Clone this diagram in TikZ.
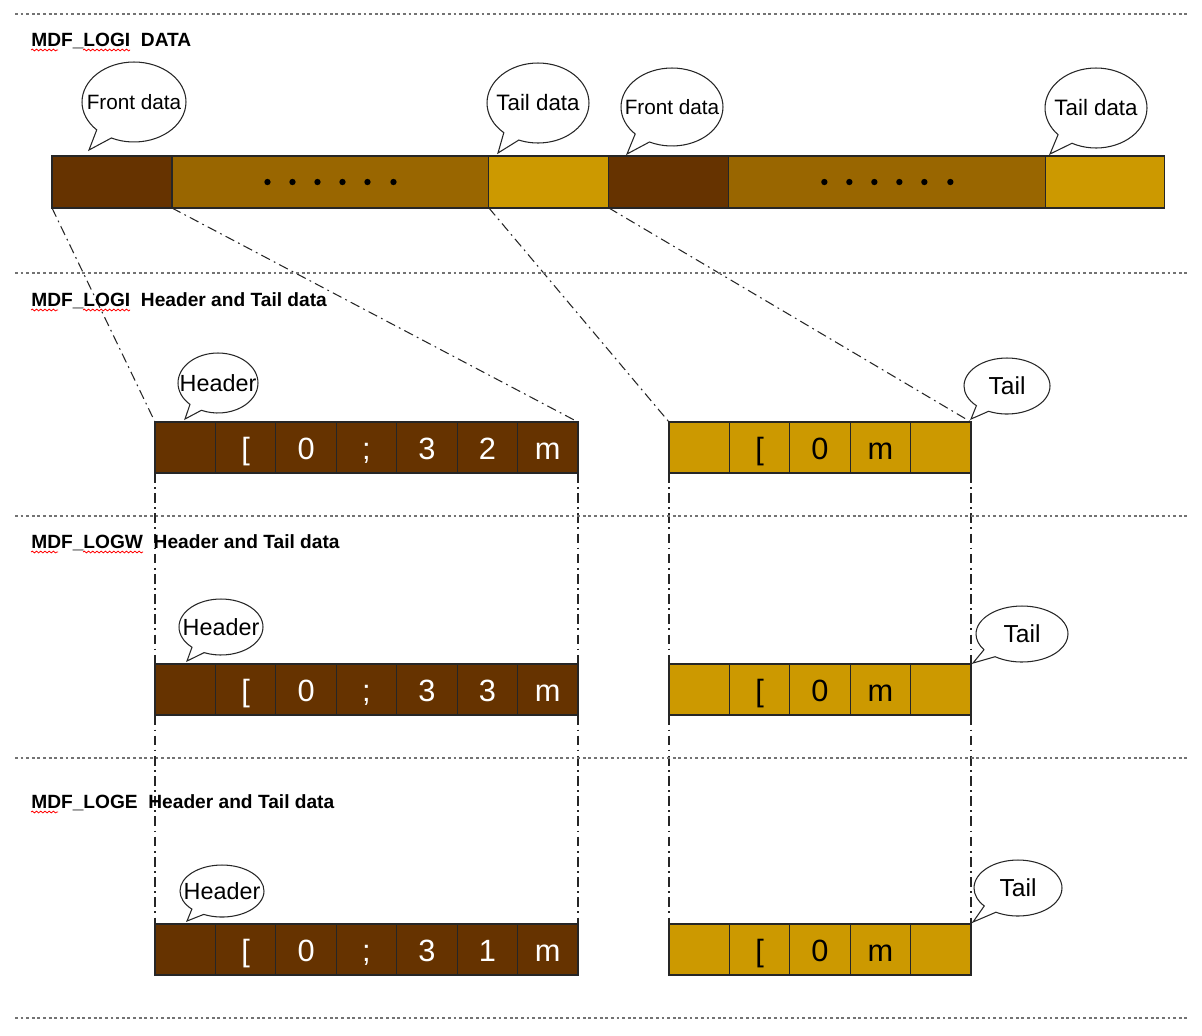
\documentclass[tikz,border=0pt]{standalone}
\usepackage{fontspec}
\setmainfont{Liberation Sans}
\usetikzlibrary{positioning,shapes.callouts,backgrounds,decorations.pathmorphing}
\definecolor{brdark}{HTML}{663300}
\definecolor{brmid}{HTML}{996600}
\definecolor{brlight}{HTML}{CC9900}

\begin{document}
\begin{tikzpicture}[x=0.02cm,y=-0.02cm]
    \tikzstyle{sep}=[black!55, line width=0.8pt, dash pattern=on 1.6pt off 1.6pt]
    \tikzstyle{title}=[anchor=base west, inner sep=0pt, font=\bfseries\fontsize{10.9}{12}\selectfont]
    \tikzstyle{squiggle}=[red, line width=0.45pt, decorate, decoration={snake, amplitude=0.5pt, segment length=2.4pt}]
    \tikzstyle{bar}=[draw=black!85, line width=0.6pt, minimum height=1.04cm, inner sep=0pt, outer sep=0pt]
    \tikzstyle{cell}=[draw=black!85, line width=0.6pt, minimum width=1.208cm, minimum height=1.02cm,
                      inner sep=0pt, outer sep=0pt, anchor=north west, text height=14pt, text depth=0pt,
                      font=\fontsize{17.5}{18}\selectfont]
    \tikzstyle{hcell}=[cell, fill=brdark, text=white]
    \tikzstyle{tcell}=[cell, fill=brlight, text=black]
    \tikzstyle{bubble}=[ellipse callout, draw=black!85, fill=white, line width=0.6pt, inner sep=0pt, callout pointer arc=20]
    \tikzstyle{guide}=[black!85, line width=0.6pt, dash pattern=on 5.5pt off 2.5pt on 1pt off 2.5pt]

    \useasboundingbox (0,0) rectangle (1202,1035);

    % section separators
    \foreach \y in {14,273,516,758,1018}
        \draw[sep] (15,\y) -- (1190,\y);

    % section titles
    \node[title] (ti) at (31,46) {MDF\_LOGI\ \ DATA};
    \node[title] (th) at (31,306) {MDF\_LOGI\ \ Header and Tail data};
    \node[title] (tw) at (31,548) {MDF\_LOGW\ \ Header and Tail data};
    \node[title] (te) at (31,808) {MDF\_LOGE\ \ Header and Tail data};
    \draw[squiggle] (31,50) -- (58,50);  \draw[squiggle] (83,50) -- (130,50);
    \draw[squiggle] (31,310) -- (58,310); \draw[squiggle] (83,310) -- (130,310);
    \draw[squiggle] (31,552) -- (58,552); \draw[squiggle] (83,552) -- (143,552);
    \draw[squiggle] (31,812) -- (58,812);

    % log data stream
    \node[bar, fill=brdark, minimum width=2.4cm] (fa) at (112,182) {};
    \node[bar, fill=brmid, minimum width=6.34cm, right=0pt of fa] (ma) {};
    \node[bar, fill=brlight, minimum width=2.4cm, right=0pt of ma] (ta) {};
    \node[bar, fill=brdark, minimum width=2.4cm, right=0pt of ta] (fb) {};
    \node[bar, fill=brmid, minimum width=6.34cm, right=0pt of fb] (mb) {};
    \node[bar, fill=brlight, minimum width=2.38cm, right=0pt of mb] (tb) {};
    \foreach \d in {-63,-38,-13,12,37,63} {
        \fill (ma.center) ++(\d,0) circle (1.8pt);
        \fill (mb.center) ++(\d,0) circle (1.8pt);
    }

    \node[bubble, minimum width=2.08cm, minimum height=1.6cm, callout absolute pointer={(89,150)},
          label={[font=\fontsize{11.8}{13}\selectfont]center:Front data}] (cfa) at (134,102) {};
    \node[bubble, minimum width=2.04cm, minimum height=1.6cm, callout absolute pointer={(498,153)},
          label={[font=\fontsize{12.7}{14}\selectfont]center:Tail data}] (cta) at (538,103) {};
    \node[bubble, minimum width=2.04cm, minimum height=1.56cm, callout absolute pointer={(627,154)},
          label={[font=\fontsize{11.8}{13}\selectfont]center:Front data}] (cfb) at (672,107) {};
    \node[bubble, minimum width=2.04cm, minimum height=1.6cm, callout absolute pointer={(1050,154)},
          label={[font=\fontsize{12.7}{14}\selectfont]center:Tail data}] (ctb) at (1096,108) {};

    % header and tail escape codes
    \foreach \t [count=\k] in {{},[,0,;,3,2,m}
        \node[hcell] (i\k) at ({155+(\k-1)*60.43},422) {\t};
    \foreach \t [count=\k] in {{},[,0,;,3,3,m}
        \node[hcell] (w\k) at ({155+(\k-1)*60.43},664) {\t};
    \foreach \t [count=\k] in {{},[,0,;,3,1,m}
        \node[hcell] (e\k) at ({155+(\k-1)*60.43},924) {\t};
    \foreach \row/\y in {ti/422,tw/664,te/924}
        \foreach \t [count=\k] in {{},[,0,m,{}}
            \node[tcell] (\row\k) at ({669+(\k-1)*60.4},\y) {\t};

    \node[bubble, minimum width=1.6cm, minimum height=1.2cm, callout absolute pointer={(185,419)},
          label={[font=\fontsize{13.3}{14}\selectfont]center:Header}] (hi) at (218,383) {};
    \node[bubble, minimum width=1.72cm, minimum height=1.12cm, callout absolute pointer={(971,419)},
          label={[font=\fontsize{14}{15}\selectfont]center:Tail}] (tli) at (1007,386) {};
    \node[bubble, minimum width=1.68cm, minimum height=1.12cm, callout absolute pointer={(187,661)},
          label={[font=\fontsize{13.3}{14}\selectfont]center:Header}] (hw) at (221,627) {};
    \node[bubble, minimum width=1.84cm, minimum height=1.12cm, callout absolute pointer={(973,663)},
          label={[font=\fontsize{14}{15}\selectfont]center:Tail}] (tlw) at (1022,634) {};
    \node[bubble, minimum width=1.68cm, minimum height=1.04cm, callout absolute pointer={(187,921)},
          label={[font=\fontsize{13.3}{14}\selectfont]center:Header}] (he) at (222,891) {};
    \node[bubble, minimum width=1.76cm, minimum height=1.12cm, callout absolute pointer={(973,922)},
          label={[font=\fontsize{14}{15}\selectfont]center:Tail}] (tle) at (1018,888) {};

    % projection lines
    \begin{scope}[on background layer]
        \draw[guide] (fa.south west) -- (i1.north west);
        \draw[guide] (ma.south west) -- (i7.north east);
        \draw[guide] (ta.south west) -- (ti1.north west);
        \draw[guide] (fb.south west) -- (ti5.north east);
        \draw[guide] (i1.south west) -- (e1.north west);
        \draw[guide] (i7.south east) -- (e7.north east);
        \draw[guide] (ti1.south west) -- (te1.north west);
        \draw[guide] (ti5.south east) -- (te5.north east);
    \end{scope}
\end{tikzpicture}
\end{document}
